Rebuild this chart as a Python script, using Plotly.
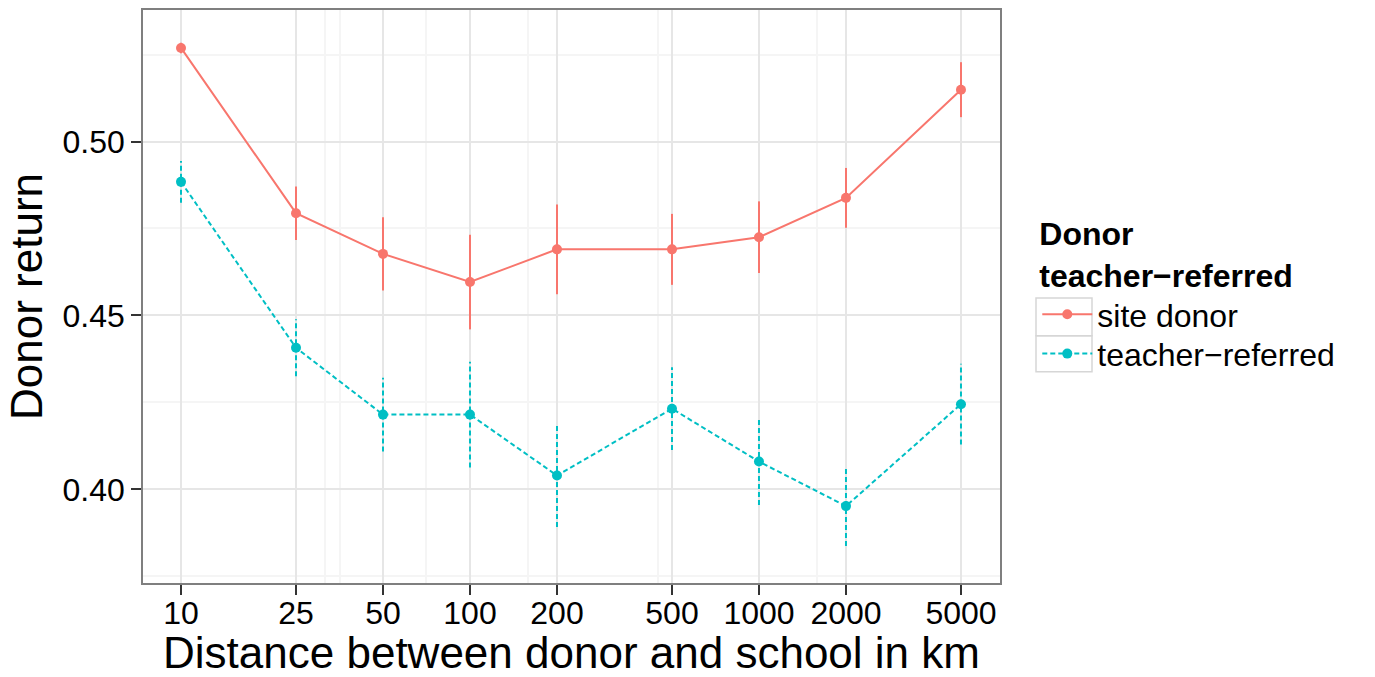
import plotly.graph_objects as go

distance_km = [10, 25, 50, 100, 200, 500, 1000, 2000, 5000]
tick_labels = ["10", "25", "50", "100", "200", "500", "1000", "2000", "5000"]

site_donor = [0.5269, 0.4794, 0.4677, 0.4596, 0.4690, 0.4690, 0.4725, 0.4838, 0.5149]
site_donor_se = [0.0015, 0.0077, 0.0105, 0.0136, 0.0129, 0.0102, 0.0103, 0.0086, 0.0079]

teacher_referred = [0.4884, 0.4407, 0.4215, 0.4215, 0.4040, 0.4232, 0.4080, 0.3952, 0.4245]
teacher_referred_se = [0.0060, 0.0082, 0.0106, 0.0152, 0.0148, 0.0119, 0.0125, 0.0115, 0.0116]

y_major = [0.40, 0.45, 0.50]
y_labels = ["0.40", "0.45", "0.50"]
y_minor = [0.375, 0.425, 0.475, 0.525]
x_minor = [31.5, 35.4, 70.7, 159, 449, 1590]

RED = "#F8766D"
CYAN = "#00BFC4"

fig = go.Figure()


def err_segments(xs, ys, es):
    ex, ey = [], []
    for x, y, e in zip(xs, ys, es):
        ex += [x, x, None]
        ey += [y - e, y + e, None]
    return ex, ey


for name, ys, es, color, dash, leg in [
    ("site donor", site_donor, site_donor_se, RED, "solid", "legend"),
    ("teacher\u2212referred", teacher_referred, teacher_referred_se, CYAN, "5px,3px", "legend2"),
]:
    ex, ey = err_segments(distance_km, ys, es)
    fig.add_trace(go.Scatter(
        x=ex, y=ey, mode="lines", showlegend=False, hoverinfo="skip",
        line=dict(color=color, width=2, dash=dash),
    ))
    fig.add_trace(go.Scatter(
        x=distance_km, y=ys, mode="lines+markers", name=name, legend=leg,
        line=dict(color=color, width=2, dash=dash),
        marker=dict(color=color, size=10, line=dict(width=0)),
    ))

# legend key boxes (ggplot-style), in paper coordinates of the plot area
PL, PW, PT, PH = 143, 857, 8, 575


def px_to_paper(xpx, ypx):
    return (xpx - PL) / PW, 1 - (ypx - PT) / PH


shapes = []
for top, bottom in [(297, 335), (335, 371)]:
    x0, y0 = px_to_paper(1036, bottom)
    x1, y1 = px_to_paper(1092, top)
    shapes.append(dict(type="rect", xref="paper", yref="paper",
                       x0=x0, x1=x1, y0=y0, y1=y1,
                       line=dict(color="#d6d6d6", width=1.5), layer="below"))

LEG_X = 1.0435
fig.update_layout(
    width=1375, height=677,
    margin=dict(l=143, r=375, t=8, b=94),
    paper_bgcolor="white", plot_bgcolor="white",
    font=dict(family="Liberation Sans, Arial, sans-serif", color="#000000"),
    shapes=shapes,
    legend=dict(
        x=LEG_X, y=0.662, xanchor="left", yanchor="top",
        title=dict(text="<b>Donor<br>teacher\u2212referred</b>",
                   font=dict(size=32, color="#000000"), side="top"),
        font=dict(size=32, color="#000000"),
        tracegroupgap=0, itemwidth=50,
        bgcolor="rgba(0,0,0,0)",
    ),
    legend2=dict(
        x=LEG_X, y=px_to_paper(0, 353)[1], xanchor="left", yanchor="middle",
        font=dict(size=32, color="#000000"),
        tracegroupgap=0, itemwidth=50,
        bgcolor="rgba(0,0,0,0)",
    ),
    xaxis=dict(
        type="log", range=[0.8685, 3.834],
        tickmode="array", tickvals=distance_km, ticktext=tick_labels,
        tickfont=dict(size=32, color="#000000"),
        ticks="outside", ticklen=10, tickwidth=1.8, tickcolor="#333333",
        ticklabelstandoff=-9,
        showgrid=True, gridcolor="#e6e6e6", gridwidth=1.5,
        minor=dict(tickmode="array", tickvals=x_minor, showgrid=True,
                   gridcolor="#f5f5f5", gridwidth=1.5, ticks=""),
        showline=True, linecolor="#7f7f7f", linewidth=1.5, mirror=True,
        zeroline=False,
        title=dict(text="Distance between donor and school in km",
                   font=dict(size=44, color="#000000"), standoff=5),
    ),
    yaxis=dict(
        range=[0.3731, 0.5378],
        tickmode="array", tickvals=y_major, ticktext=y_labels,
        tickfont=dict(size=32, color="#000000"),
        ticks="outside", ticklen=10, tickwidth=1.8, tickcolor="#333333",
        showgrid=True, gridcolor="#e6e6e6", gridwidth=1.5,
        minor=dict(tickmode="array", tickvals=y_minor, showgrid=True,
                   gridcolor="#f5f5f5", gridwidth=1.5, ticks=""),
        showline=True, linecolor="#7f7f7f", linewidth=1.5, mirror=True,
        zeroline=False,
        title=dict(text="Donor return", font=dict(size=44, color="#000000"), standoff=6),
    ),
)

fig.write_html("out.html")
